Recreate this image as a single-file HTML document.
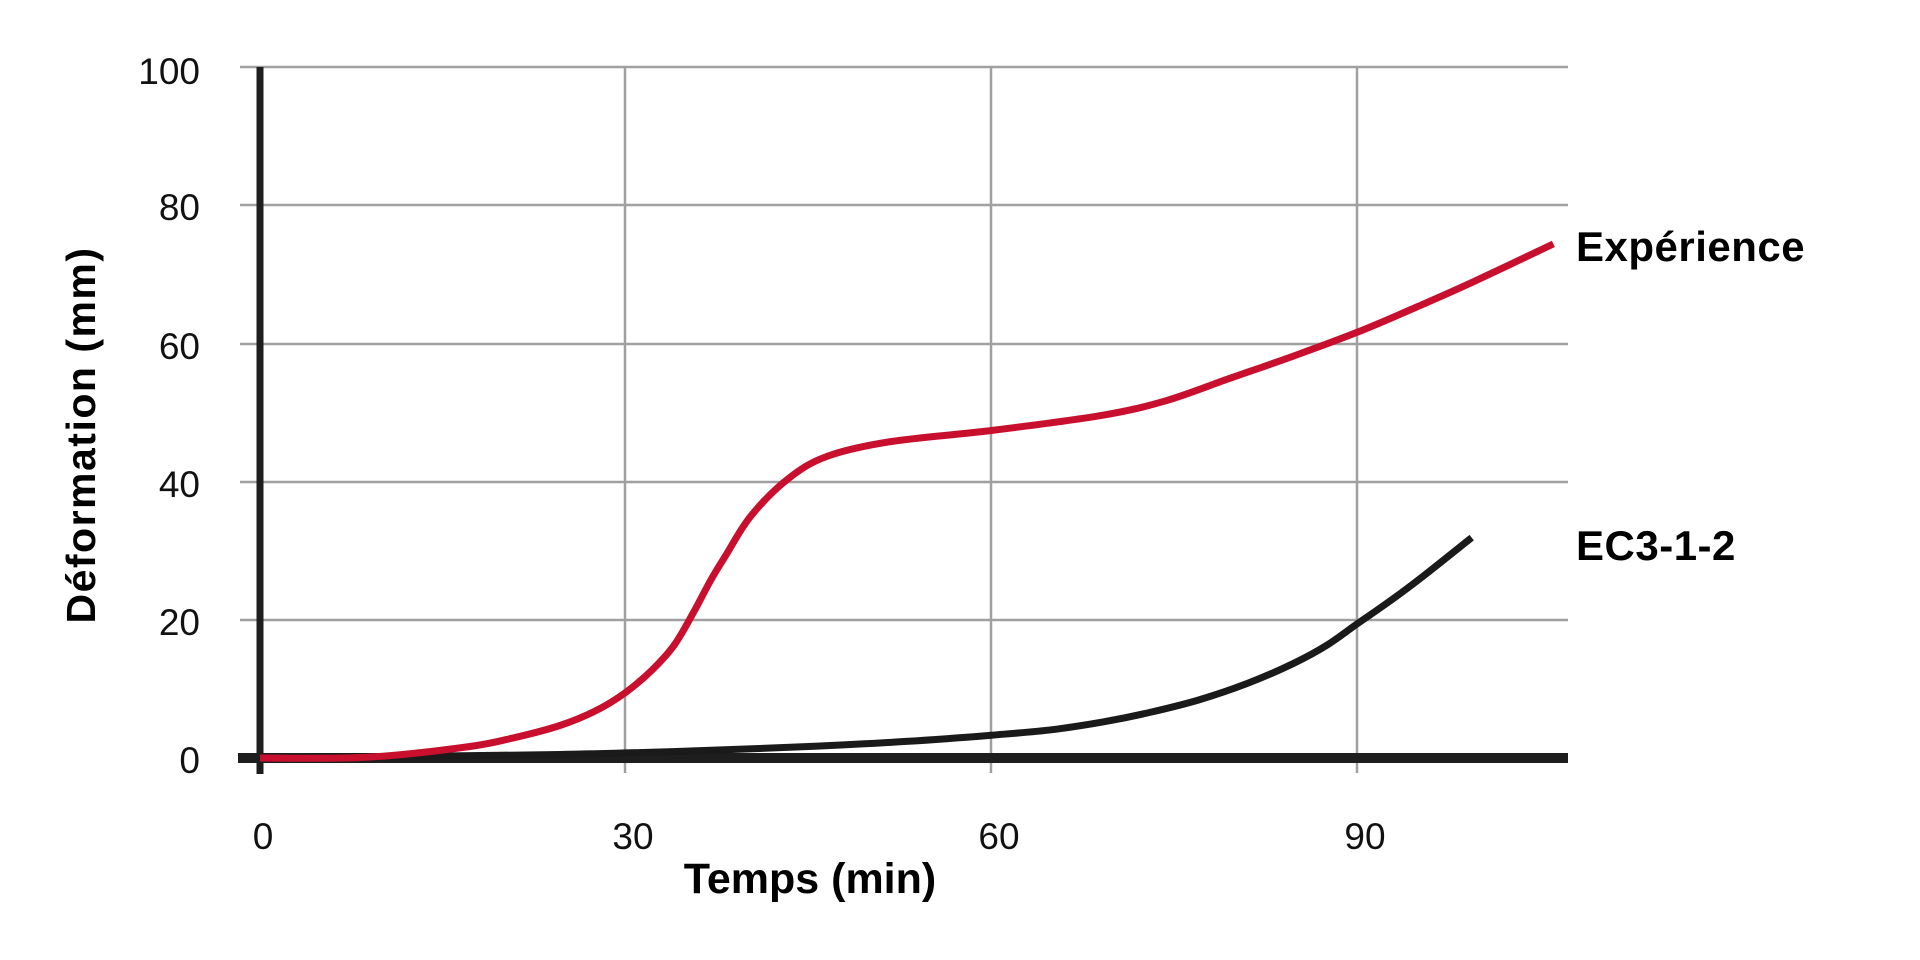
<!DOCTYPE html>
<html><head><meta charset="utf-8"><style>
html,body{margin:0;padding:0;background:#fff;}
svg{display:block;}
text{font-family:"Liberation Sans",Arial,sans-serif;}
</style></head><body>
<svg id="s" width="1920" height="960" viewBox="0 0 1920 960" xmlns="http://www.w3.org/2000/svg">
<g stroke="#a0a0a0" stroke-width="2.5">
<line x1="240" y1="67" x2="1568" y2="67"/>
<line x1="240" y1="205" x2="1568" y2="205"/>
<line x1="240" y1="344" x2="1568" y2="344"/>
<line x1="240" y1="482" x2="1568" y2="482"/>
<line x1="240" y1="620" x2="1568" y2="620"/>
<line x1="625" y1="67" x2="625" y2="773"/>
<line x1="991" y1="67" x2="991" y2="773"/>
<line x1="1357" y1="67" x2="1357" y2="773"/>
</g>
<line x1="238" y1="758" x2="1568" y2="758" stroke="#1e1e1e" stroke-width="10"/>
<line x1="260" y1="67" x2="260" y2="774" stroke="#1e1e1e" stroke-width="7"/>
<path id="blk" fill="none" stroke="#1a1a1a" stroke-width="7" stroke-linecap="butt"/>
<path id="red" fill="none" stroke="#c8102e" stroke-width="7" stroke-linecap="butt"/>
<g font-size="37" fill="#111" text-anchor="end">
<text x="200" y="84">100</text>
<text x="200" y="220">80</text>
<text x="200" y="359">60</text>
<text x="200" y="497">40</text>
<text x="200" y="635">20</text>
<text x="200" y="773">0</text>
</g>
<g font-size="37" fill="#111" text-anchor="middle">
<text x="263" y="849">0</text>
<text x="633" y="849">30</text>
<text x="999" y="849">60</text>
<text x="1365" y="849">90</text>
</g>
<text x="810" y="893" font-size="43" font-weight="bold" text-anchor="middle" fill="#000">Temps (min)</text>
<text transform="translate(95,435) rotate(-90)" font-size="41" font-weight="bold" text-anchor="middle" letter-spacing="1.5" fill="#000">Déformation (mm)</text>
<text x="1576" y="261" font-size="42" font-weight="bold" letter-spacing="0.5" fill="#000">Expérience</text>
<text x="1576" y="560" font-size="42" font-weight="bold" letter-spacing="0.5" fill="#000">EC3-1-2</text>
</svg>
<script>
function X(t){return 260+t*12.19;}
function Y(v){return 758-v*6.91;}
function path(pts){
  var p=pts.map(function(a){return [X(a[0]),Y(a[1])];});
  var d="M"+p[0][0].toFixed(1)+","+p[0][1].toFixed(1);
  for(var i=0;i<p.length-1;i++){
    var p0=p[i-1]||p[i],p1=p[i],p2=p[i+1],p3=p[i+2]||p2;
    var c1=[p1[0]+(p2[0]-p0[0])/6,p1[1]+(p2[1]-p0[1])/6];
    var c2=[p2[0]-(p3[0]-p1[0])/6,p2[1]-(p3[1]-p1[1])/6];
    d+=" C"+c1[0].toFixed(1)+","+c1[1].toFixed(1)+" "+c2[0].toFixed(1)+","+c2[1].toFixed(1)+" "+p2[0].toFixed(1)+","+p2[1].toFixed(1);
  }
  return d;
}
document.getElementById("red").setAttribute("d",path([[0,0],[8.7,0.1],[17,1.6],[21,3],[24.6,4.7],[27.5,6.8],[30,9.5],[32.2,12.8],[34,16.4],[35.6,21.2],[37,25.8],[38.2,29.3],[40.3,35.1],[43.4,40.5],[46.6,43.7],[51.8,45.8],[60,47.4],[69.1,49.6],[74.3,51.7],[79.5,54.9],[85,58.3],[90,61.6],[94.8,65.2],[99.4,68.8],[106.1,74.4]]));
document.getElementById("blk").setAttribute("d",path([[0,0],[10,0.2],[24.6,0.5],[35,1],[45.5,1.7],[53,2.4],[60,3.3],[65,4.1],[69.1,5.2],[73,6.6],[77,8.4],[81,10.8],[84.8,13.7],[87.5,16.3],[90,19.4],[92.6,22.6],[95.2,26],[99.4,31.9]]));
</script>
</body></html>
